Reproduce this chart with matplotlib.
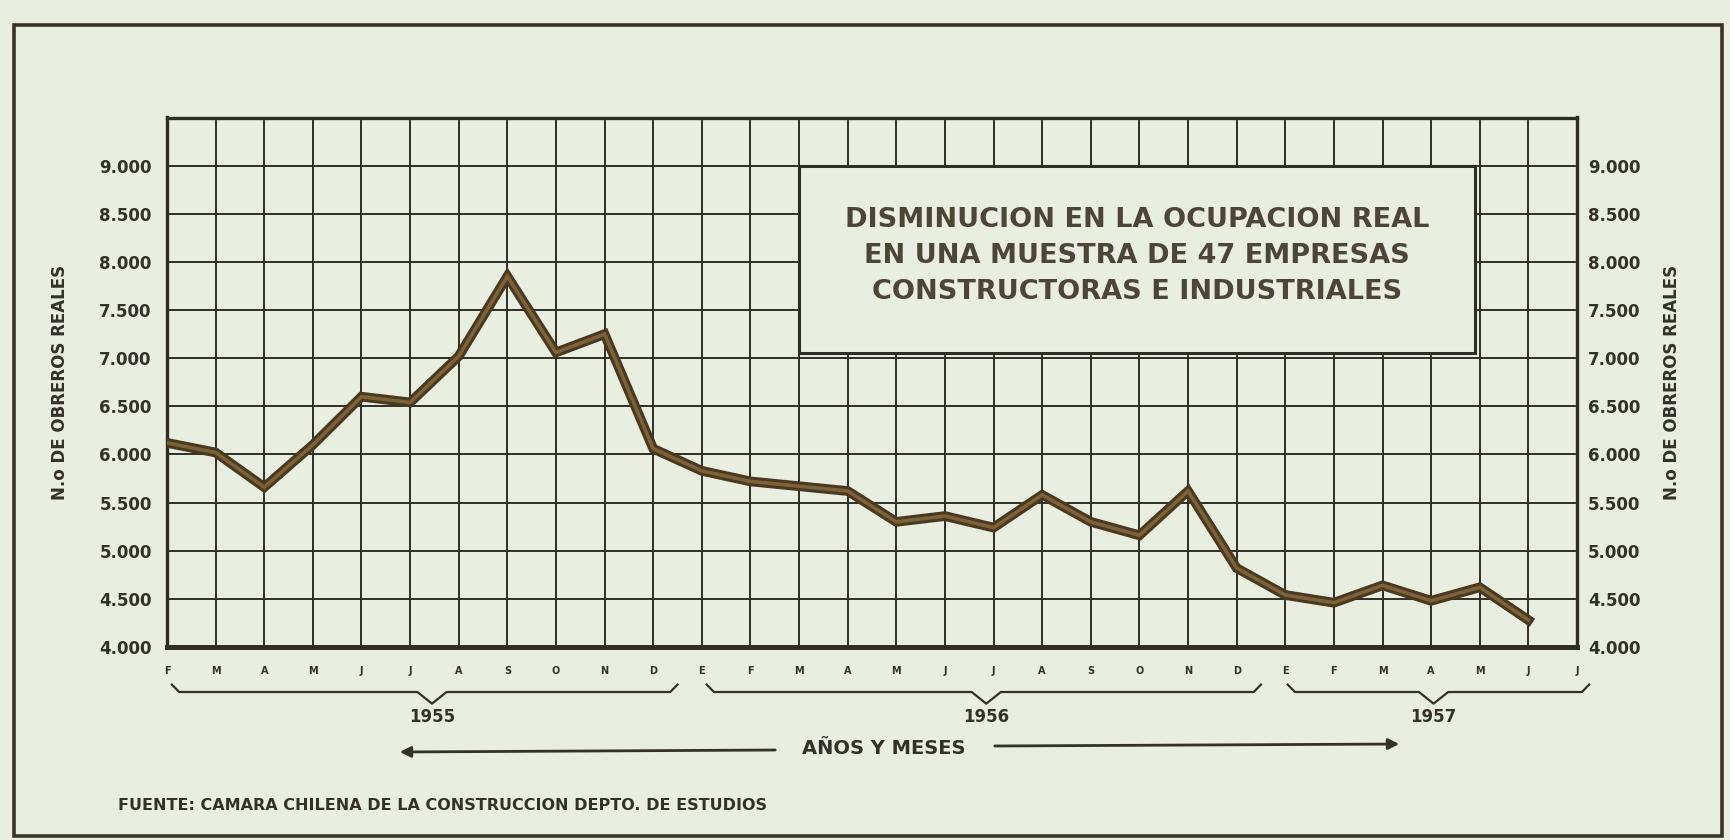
import matplotlib
matplotlib.use('Agg')
from matplotlib import pyplot as plt
from matplotlib.patches import Rectangle
from matplotlib.transforms import blended_transform_factory

# meses (E = enero) desde febrero 1955 hasta julio 1957
meses = ['F', 'M', 'A', 'M', 'J', 'J', 'A', 'S', 'O', 'N', 'D',
         'E', 'F', 'M', 'A', 'M', 'J', 'J', 'A', 'S', 'O', 'N', 'D',
         'E', 'F', 'M', 'A', 'M', 'J', 'J']

obreros_1955 = [6120, 6020, 5660, 6100, 6600, 6540, 7020, 7850, 7060, 7250, 6060]
obreros_1956 = [5830, 5720, 5670, 5620, 5300, 5360, 5240, 5580, 5300, 5160, 5620, 4820]
obreros_1957 = [4540, 4460, 4640, 4480, 4620, 4280]
obreros = obreros_1955 + obreros_1956 + obreros_1957

anios = ['1955', '1956', '1957']
anio_inicio = [0.1, 11.1, 23.05]
anio_fin = [10.5, 22.5, 29.25]
anio_centro = [5.45, 16.85, 26.05]

y_ticks = [4000, 4500, 5000, 5500, 6000, 6500, 7000, 7500, 8000, 8500, 9000]
y_labels = [f'{v:,}'.replace(',', '.') for v in y_ticks]

titulo = ('DISMINUCION EN LA OCUPACION REAL\n'
          'EN UNA MUESTRA DE 47 EMPRESAS\n'
          'CONSTRUCTORAS E INDUSTRIALES')
fuente = 'FUENTE: CAMARA CHILENA DE LA CONSTRUCCION DEPTO. DE ESTUDIOS'

bg = '#e8eee0'
ink = '#33312a'
grid_c = '#2e2d26'

fig = plt.figure(figsize=(17.31, 8.40), dpi=100, facecolor=bg)
ax = fig.add_axes([167 / 1731, 1 - 647 / 840, 1410 / 1731, 529.5 / 840])
ax.set_facecolor(bg)

x = list(range(len(obreros)))
ax.plot(x, obreros, color='#4a3920', lw=7, solid_joinstyle='miter', zorder=4)
ax.plot(x, obreros, color='#7d6238', lw=2.6, solid_joinstyle='miter', zorder=5)

ax.set_xlim(0, 29)
ax.set_ylim(4000, 9500)
ax.set_xticks(range(len(meses)))
ax.set_xticklabels(meses, fontsize=7, fontweight='bold', color=ink)
ax.set_yticks(y_ticks + [9500])
ax.set_yticklabels(y_labels + [''], fontsize=12, fontweight='bold', color=ink)
ax.tick_params(axis='x', length=0, pad=14)
ax.tick_params(axis='y', length=0, pad=11)
ax.grid(True, color=grid_c, lw=1.4)
ax.set_axisbelow(True)
for s in ax.spines.values():
    s.set_linewidth(2.4)
    s.set_color(grid_c)
ax.spines['bottom'].set_linewidth(3.6)
ax.set_ylabel('N.o DE OBREROS REALES', fontsize=12, fontweight='bold',
              color=ink, labelpad=22)

ax2 = ax.twinx()
ax2.set_ylim(4000, 9500)
ax2.set_yticks(y_ticks)
ax2.set_yticklabels(y_labels, fontsize=12, fontweight='bold', color=ink)
ax2.tick_params(axis='y', length=0, pad=8)
for s in ax2.spines.values():
    s.set_visible(False)
ax2.set_ylabel('N.o DE OBREROS REALES', fontsize=12, fontweight='bold',
               color=ink, rotation=90, labelpad=16)

# recuadro del titulo
box = Rectangle((13, 7050), 13.9, 1950, facecolor=bg, edgecolor=grid_c,
                lw=2.2, zorder=3)
ax.add_patch(box)
ax.text(13 + 13.9 / 2, 7050 + 1950 / 2 + 40, titulo, ha='center', va='center',
        fontsize=19.5, fontweight='bold', color='#4d4636', linespacing=1.5,
        zorder=6)

# llaves bajo los meses
tr = blended_transform_factory(ax.transData, ax.transAxes)
y0 = -0.085
for a, x0, x1, m in zip(anios, anio_inicio, anio_fin, anio_centro):
    px = [x0, x0 + 0.15, m - 0.3, m, m + 0.3, x1 - 0.15, x1]
    py = [y0 + 0.014, y0, y0, y0 - 0.022, y0, y0, y0 + 0.014]
    ax.plot(px, py, color=ink, lw=1.6, transform=tr, clip_on=False)
    ax.text(m, -0.132, a, transform=tr, ha='center', va='center',
            fontsize=12, fontweight='bold', color=ink)

# flechas de AÑOS Y MESES
fig.text(884 / 1731, 1 - 748 / 840, 'AÑOS Y MESES', ha='center', va='center',
         fontsize=14, fontweight='bold', color=ink)
ax.annotate('', xy=(397, 840 - 752), xytext=(778, 840 - 750),
            xycoords='figure pixels', textcoords='figure pixels',
            arrowprops=dict(arrowstyle='-|>', color=ink, lw=2,
                            mutation_scale=16))
ax.annotate('', xy=(1402, 840 - 744), xytext=(992, 840 - 746),
            xycoords='figure pixels', textcoords='figure pixels',
            arrowprops=dict(arrowstyle='-|>', color=ink, lw=2,
                            mutation_scale=16))

fig.text(118 / 1731, 1 - 806 / 840, fuente, ha='left', va='center',
         fontsize=11.5, fontweight='bold', color=ink)

# marco exterior
fig.patches.append(Rectangle((14 / 1731, 1 - 836 / 840), 1708 / 1731, 811 / 840,
                             transform=fig.transFigure, fill=False,
                             edgecolor='#3a3426', lw=2.6))

fig.savefig('out.png', dpi=100, facecolor=bg)
